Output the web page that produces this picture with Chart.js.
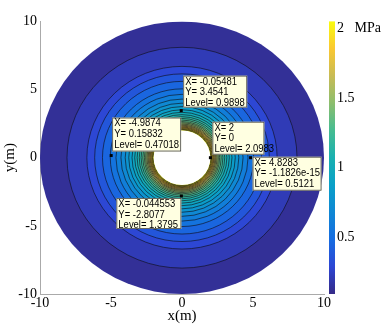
<!DOCTYPE html>
<html>
<head>
<meta charset="utf-8">
<script src="https://cdn.jsdelivr.net/npm/chart.js@4"></script>
<style>body{margin:0;background:#fff}canvas{display:block}</style>
</head>
<body>
<canvas id="c" width="390" height="330"></canvas>
<script>
// axes
const axisTicks = [-10, -5, 0, 5, 10];
const cbTicks = [0.5, 1, 1.5, 2];
const cbRange = [0.09, 2.05];

// contour rings (m), outermost first; level = fill of band inside that ring
const holeRadius = 2;
const ringRadii = [10, 8.1, 6.7, 6.15, 5.6, 5.05, 4.65, 4.3, 4.0, 3.75, 3.52, 3.33, 3.16, 3.01, 2.88, 2.76, 2.65, 2.56, 2.47, 2.39, 2.32, 2.25, 2.19, 2.13, 2.08, 2.03];
const ringLevels = [0.13, 0.21, 0.29, 0.37, 0.45, 0.53, 0.61, 0.69, 0.77, 0.85, 0.93, 1.01, 1.09, 1.17, 1.25, 1.33, 1.41, 1.49, 1.57, 1.65, 1.73, 1.81, 1.89, 1.96, 2.01, 2.05];

// data tips
const tipX = [-0.05481, -4.9874, 2, 4.8283, -0.044553];
const tipY = [3.4541, 0.15832, 0, -1.1826e-15, -2.8077];
const tipLevel = [0.9898, 0.47018, 2.0983, 0.5121, 1.3795];

// box placement relative to the marked point (px)
const tipBox = [
  {dx: 2, dy: -35, w: 64, h: 32},
  {dx: 1, dy: -38, w: 69, h: 34},
  {dx: 2, dy: -36, w: 52, h: 33},
  {dx: 2, dy: -1, w: 69, h: 34},
  {dx: -65, dy: 2, w: 65, h: 31}
];

// parula-ish colour stops
const stops = [
  [0.00, [53, 42, 135]], [0.10, [45, 70, 212]], [0.20, [22, 108, 225]],
  [0.30, [15, 135, 212]], [0.40, [10, 160, 200]], [0.50, [25, 176, 176]],
  [0.60, [70, 188, 145]], [0.70, [140, 190, 110]], [0.80, [200, 187, 85]],
  [0.90, [250, 200, 50]], [1.00, [249, 251, 14]]
];
function parulaT(t) {
  t = Math.min(1, Math.max(0, t));
  for (let i = 1; i < stops.length; i++) {
    if (t <= stops[i][0]) {
      const [t0, c0] = stops[i - 1], [t1, c1] = stops[i];
      const f = (t - t0) / (t1 - t0);
      return 'rgb(' + c0.map((c, k) => Math.round(c + (c1[k] - c) * f)).join(',') + ')';
    }
  }
  return 'rgb(249,251,14)';
}
const colorFor = v => parulaT((v - cbRange[0]) / (cbRange[1] - cbRange[0]));

const serif = '"Liberation Serif", "Times New Roman", serif';

const contourPlugin = {
  id: 'contour',
  beforeDatasetsDraw(chart) {
    const {ctx, chartArea: a, scales: {x, y, cb}} = chart;
    const cx = x.getPixelForValue(0), cy = y.getPixelForValue(0);
    const ell = r => {
      ctx.beginPath();
      ctx.ellipse(cx, cy, Math.abs(x.getPixelForValue(r) - cx), Math.abs(cy - y.getPixelForValue(r)), 0, 0, Math.PI * 2);
    };
    ctx.save();
    ctx.beginPath(); ctx.rect(a.left, a.top, a.width, a.height); ctx.clip();
    ringRadii.forEach((r, i) => { ell(r); ctx.fillStyle = colorFor(ringLevels[i]); ctx.fill(); });
    ctx.strokeStyle = 'rgba(15,15,25,0.9)';
    ctx.lineWidth = 0.7;
    ringRadii.forEach((r, i) => { if (i > 0) { ell(r); ctx.stroke(); } });
    ell(holeRadius); ctx.fillStyle = '#fff'; ctx.fill();
    ctx.restore();

    // colorbar
    const top = cb.getPixelForValue(cbRange[1]), bot = cb.getPixelForValue(cbRange[0]);
    const g = ctx.createLinearGradient(0, bot, 0, top);
    stops.forEach(s => g.addColorStop(s[0], 'rgb(' + s[1].join(',') + ')'));
    ctx.fillStyle = g;
    ctx.fillRect(cb.left + 5, top, 6, bot - top);
  },
  afterDatasetsDraw(chart) {
    const {ctx, scales: {x, y}} = chart;
    ctx.save();
    ctx.font = '10.5px "Liberation Sans", Arial, sans-serif';
    ctx.textBaseline = 'middle';
    tipX.forEach((vx, i) => {
      const px = x.getPixelForValue(vx), py = y.getPixelForValue(tipY[i]);
      const b = tipBox[i];
      const bx = px + b.dx, by = py + b.dy;
      ctx.fillStyle = '#ffffe1';
      ctx.fillRect(bx, by, b.w, b.h);
      ctx.strokeStyle = '#444';
      ctx.lineWidth = 0.8;
      ctx.strokeRect(bx + 0.5, by + 0.5, b.w - 1, b.h - 1);
      ctx.fillStyle = '#000';
      ['X= ' + vx, 'Y= ' + tipY[i], 'Level= ' + tipLevel[i]].forEach((t, k) => {
        const w = ctx.measureText(t).width * 0.9;
        ctx.fillText(t, bx + 2, by + 6 + k * 10.8, w);
      });
      ctx.fillRect(px - 1.5, py - 1.5, 3, 3);
    });
    ctx.restore();
  }
};

const axisCommon = {
  type: 'linear', min: -10, max: 10,
  afterBuildTicks: s => { s.ticks = axisTicks.map(v => ({value: v})); },
  grid: {display: false, drawTicks: false},
  border: {color: '#aaa', width: 1},
  ticks: {color: '#000', font: {family: serif, size: 14}, autoSkip: false, maxRotation: 0}
};

new Chart(document.getElementById('c'), {
  type: 'scatter',
  data: {
    datasets: [{
      data: tipX.map((v, i) => ({x: v, y: tipY[i]})),
      pointRadius: 0
    }]
  },
  options: {
    responsive: false,
    animation: false,
    layout: {padding: {top: 6, left: 0, right: 0, bottom: 0}},
    plugins: {legend: {display: false}, tooltip: {enabled: false}},
    scales: {
      x: Object.assign({}, axisCommon, {
        position: 'bottom',
        ticks: Object.assign({}, axisCommon.ticks, {padding: 1}),
        title: {display: true, text: 'x(m)', color: '#000', font: {family: serif, size: 15}, padding: {top: 0, bottom: 5}},
        afterFit: s => { s.height = 36; }
      }),
      y: Object.assign({}, axisCommon, {
        position: 'left',
        ticks: Object.assign({}, axisCommon.ticks, {padding: 3}),
        title: {display: true, text: 'y(m)', color: '#000', font: {family: serif, size: 15}, padding: {top: 1, bottom: 0}},
        afterFit: s => { s.width = 40; }
      }),
      cb: {
        type: 'linear', position: 'right', min: cbRange[0], max: cbRange[1],
        afterBuildTicks: s => { s.ticks = cbTicks.map(v => ({value: v})); },
        grid: {display: false, drawTicks: false},
        border: {display: false},
        ticks: {color: '#000', font: {family: serif, size: 14}, padding: 13, autoSkip: false,
          callback: v => v === 2 ? '2   MPa' : v},
        afterFit: s => { s.width = 66; }
      }
    }
  },
  plugins: [contourPlugin]
});
</script>
</body>
</html>
